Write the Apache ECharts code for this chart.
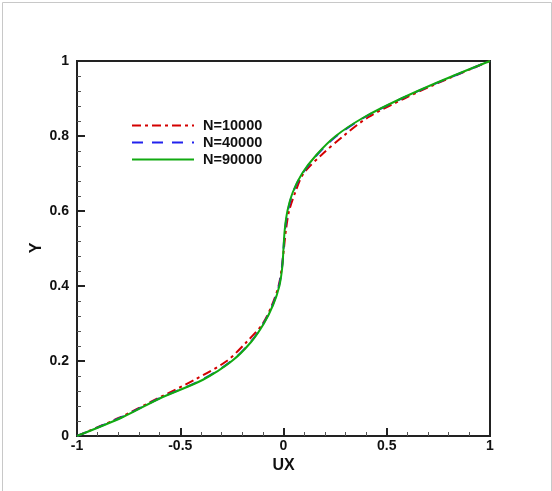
<!DOCTYPE html>
<html><head><meta charset="utf-8">
<script src="https://cdn.jsdelivr.net/npm/echarts@6/dist/echarts.min.js"></script>
<style>html,body{margin:0;padding:0;background:#fff}#c{width:552px;height:491px}</style>
</head><body><div id="c"></div>
<script>
const yLevels = [0,0.05,0.1,0.15,0.2,0.25,0.3,0.35,0.4,0.45,0.5,0.55,0.6,0.65,0.7,0.75,0.8,0.85,0.9,0.95,1];
const uxN10000 = [-1,-0.79,-0.61,-0.43,-0.275,-0.18,-0.10,-0.055,-0.024,-0.008,0.002,0.012,0.027,0.057,0.097,0.185,0.29,0.41,0.585,0.785,1];
const uxN40000 = [-1,-0.785,-0.602,-0.395,-0.252,-0.16,-0.097,-0.052,-0.022,-0.007,0,0.007,0.021,0.046,0.092,0.163,0.257,0.393,0.572,0.78,1];
const uxN90000 = [-1,-0.78,-0.60,-0.39,-0.25,-0.158,-0.095,-0.05,-0.02,-0.006,0,0.006,0.019,0.045,0.09,0.16,0.253,0.39,0.57,0.776,1];
const seriesNames = ['N=10000','N=40000','N=90000'];
const xTicks = [-1,-0.5,0,0.5,1];
const yTicks = [0,0.2,0.4,0.6,0.8,1];
const xTitle = 'UX';
const yTitle = 'Y';

const pairs = arr => arr.map((u,i)=>[u,yLevels[i]]);
const font = '"Liberation Sans", Arial, sans-serif';
const chart = echarts.init(document.getElementById('c'));
chart.setOption({
  animation:false,
  backgroundColor:'#fff',
  grid:{left:77,right:62,top:61,bottom:55,show:true,borderColor:'#222',borderWidth:2,backgroundColor:'transparent'},
  legend:{
    orient:'vertical',left:126,top:113,itemWidth:62,itemHeight:10,itemGap:2,
    data:seriesNames,
    itemStyle:{opacity:0},
    textStyle:{fontFamily:font,fontWeight:'bold',fontSize:14.5,color:'#111',padding:[0,0,0,4]}
  },
  xAxis:{
    type:'value',min:-1,max:1,interval:0.5,
    name:xTitle,nameLocation:'middle',nameGap:21,
    nameTextStyle:{fontFamily:font,fontWeight:'bold',fontSize:16,color:'#111'},
    axisLine:{show:true,onZero:false,lineStyle:{color:'#222',width:2}},
    axisTick:{show:true,inside:true,length:8,lineStyle:{color:'#222',width:2}},
    minorTick:{show:true,splitNumber:5,length:4,lineStyle:{color:'#555',width:1}},
    splitLine:{show:false},
    axisLabel:{fontFamily:font,fontWeight:'bold',fontSize:14,color:'#111',margin:3,
      formatter:v=>xTicks.includes(v)?String(v):''}
  },
  yAxis:{
    type:'value',min:0,max:1,interval:0.2,
    axisLine:{show:true,onZero:false,lineStyle:{color:'#222',width:2}},
    axisTick:{show:true,inside:true,length:8,lineStyle:{color:'#222',width:2}},
    minorTick:{show:true,splitNumber:5,length:4,lineStyle:{color:'#555',width:1}},
    splitLine:{show:false},
    axisLabel:{fontFamily:font,fontWeight:'bold',fontSize:14,color:'#111',margin:8,
      formatter:v=>{const t=yTicks.find(a=>Math.abs(a-v)<1e-9);return t===undefined?'':String(t);}}
  },
  graphic:[
    {type:'rect',left:0,top:0,shape:{x:0.5,y:0.5,width:549,height:489},style:{fill:'none',stroke:'#c8c8c8',lineWidth:1},silent:true},
    {type:'text',x:37,y:248,rotation:Math.PI/2,style:{text:yTitle,font:'bold 16px "Liberation Sans", Arial, sans-serif',fill:'#111',textAlign:'center',textVerticalAlign:'middle'},silent:true}
  ],
  series:[
    {name:seriesNames[0],type:'line',data:pairs(uxN10000),symbol:'none',smooth:0.3,
     lineStyle:{color:'#d40000',width:2,type:[9,4,3,4]},itemStyle:{color:'#d40000'},z:2},
    {name:seriesNames[1],type:'line',data:pairs(uxN40000),symbol:'none',smooth:0.3,
     lineStyle:{color:'#2222ee',width:2,type:[11,9]},itemStyle:{color:'#2222ee'},z:3},
    {name:seriesNames[2],type:'line',data:pairs(uxN90000),symbol:'none',smooth:0.3,
     lineStyle:{color:'#11aa11',width:2,type:'solid'},itemStyle:{color:'#11aa11'},z:4}
  ]
});
</script></body></html>
